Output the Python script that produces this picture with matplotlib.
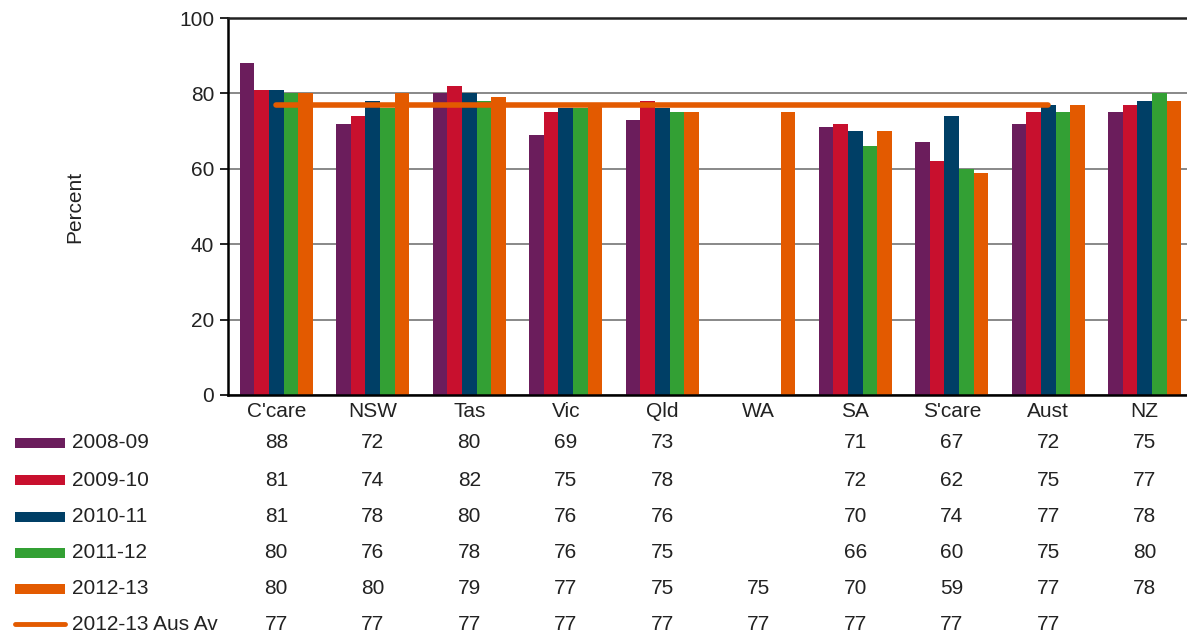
import numpy as np
import matplotlib.pyplot as plt
from matplotlib.patches import Rectangle
from matplotlib.lines import Line2D
from matplotlib.transforms import blended_transform_factory

plt.rcParams['font.family'] = ['Liberation Sans', 'DejaVu Sans']

categories = ["C'care", "NSW", "Tas", "Vic", "Qld", "WA", "SA", "S'care", "Aust", "NZ"]
series_names = ["2008-09", "2009-10", "2010-11", "2011-12", "2012-13"]
nan = np.nan
v0809 = [88, 72, 80, 69, 73, nan, 71, 67, 72, 75]
v0910 = [81, 74, 82, 75, 78, nan, 72, 62, 75, 77]
v1011 = [81, 78, 80, 76, 76, nan, 70, 74, 77, 78]
v1112 = [80, 76, 78, 76, 75, nan, 66, 60, 75, 80]
v1213 = [80, 80, 79, 77, 75, 75, 70, 59, 77, 78]
aus_av = [77, 77, 77, 77, 77, 77, 77, 77, 77, nan]
avg_name = "2012-13 Aus Av"

series = [v0809, v0910, v1011, v1112, v1213]
colors = ['#6B1D5C', '#C8102E', '#003F66', '#33A034', '#E35A00']
avg_color = '#E35A00'

fig = plt.figure(figsize=(11.87, 6.34), dpi=100)
ax = fig.add_axes([228 / 1187, 1 - 395 / 634, (1193 - 228) / 1187, (395 - 18) / 634])

x = np.arange(len(categories))
w = 0.152
for i, (vals, c) in enumerate(zip(series, colors)):
    ax.bar(x + (i - 2) * w, vals, width=w, color=c, zorder=2)

ax.plot(x, aus_av, color=avg_color, linewidth=4, solid_capstyle='round', zorder=3)

ax.set_xlim(-0.5, len(categories) - 0.5)
ax.set_ylim(0, 100)
ax.set_yticks([0, 20, 40, 60, 80, 100])
ax.yaxis.grid(True, color='#7f7f7f', linewidth=1.3, zorder=0)
ax.set_axisbelow(True)
ax.spines['right'].set_visible(False)
ax.spines['top'].set_color('#222222')
ax.spines['top'].set_linewidth(1.8)
ax.spines['left'].set_linewidth(1.8)
ax.spines['bottom'].set_linewidth(1.8)
ax.tick_params(axis='y', labelsize=15, length=6, width=1.2, direction='out', pad=4,
               labelcolor='#222222')
ax.set_xticks(x)
ax.set_xticklabels(categories, fontsize=15, color='#222222')
ax.tick_params(axis='x', length=0, pad=5)
ax.set_ylabel('Percent', fontsize=15, labelpad=68, color='#222222')

# data table under the chart
trans = blended_transform_factory(ax.transData, fig.transFigure)
row_y = [443, 480, 517, 553, 589, 624]
all_rows = series + [aus_av]
names = series_names + [avg_name]
for r, (vals, name) in enumerate(zip(all_rows, names)):
    yf = 1 - row_y[r] / 634
    for j, v in enumerate(vals):
        if not np.isnan(v):
            ax.text(j, yf, '%d' % v, transform=trans, ha='center', va='center',
                    fontsize=15, color='#222222', clip_on=False)
    fig.text(72 / 1187, yf, name, ha='left', va='center', fontsize=15, color='#222222')
    if r < 5:
        fig.patches.append(Rectangle((15 / 1187, yf - 5 / 634), 50 / 1187, 10 / 634,
                                     transform=fig.transFigure, facecolor=colors[r],
                                     edgecolor='none'))
    else:
        fig.lines.append(Line2D([15 / 1187, 65 / 1187], [yf, yf], transform=fig.transFigure,
                                color=avg_color, linewidth=3.5, solid_capstyle='round'))

fig.savefig('out.png', dpi=100)
